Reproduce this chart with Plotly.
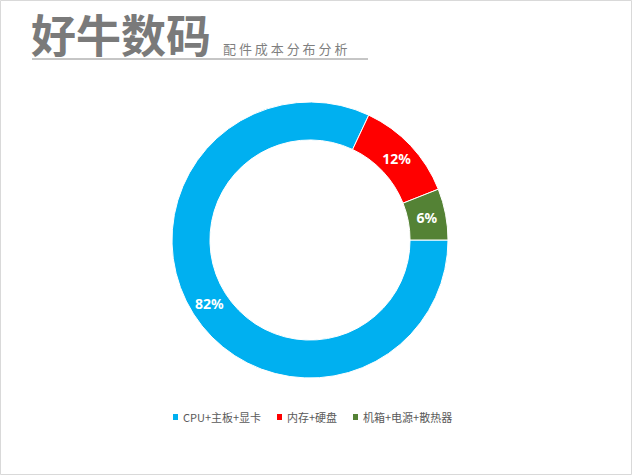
import plotly.graph_objects as go

categories = ["CPU+主板+显卡", "内存+硬盘", "机箱+电源+散热器"]
values = [82, 12, 6]
colors = ["#00B0F0", "#FF0000", "#548235"]

W, H = 632, 475
cx, cy, r = 310, 240, 138

fig = go.Figure(go.Pie(
    labels=categories, values=values, hole=0.725, sort=False,
    direction="clockwise", rotation=90,
    marker=dict(colors=colors, line=dict(color="white", width=1)),
    textinfo="percent", texttemplate="<b>%{percent:.0%}</b>",
    textposition="inside", insidetextorientation="horizontal",
    textfont=dict(color="white", size=14, family="Noto Sans"),
    domain=dict(x=[(cx - r) / W, (cx + r) / W], y=[(H - cy - r) / H, (H - cy + r) / H]),
    showlegend=False,
))

title_font = "Noto Sans CJK SC"
annotations = [
    dict(text="<b>好牛数码</b>", x=29 / W, y=1 - 33 / H, xref="paper", yref="paper",
         xanchor="left", yanchor="middle", showarrow=False,
         font=dict(size=45, color="#7a7a7a", family=title_font)),
    dict(text="配 件 成 本 分 布 分 析", x=221 / W, y=1 - 48 / H, xref="paper", yref="paper",
         xanchor="left", yanchor="middle", showarrow=False,
         font=dict(size=13, color="#7f7f7f", family=title_font)),
]
shapes = [
    dict(type="line", xref="paper", yref="paper", x0=32 / W, x1=368 / W,
         y0=1 - 59 / H, y1=1 - 59 / H, line=dict(color="#8c8c8c", width=1)),
    dict(type="rect", xref="paper", yref="paper", x0=0.5 / W, x1=1 - 0.5 / W,
         y0=0.5 / H, y1=1 - 0.5 / H, line=dict(color="#d9d9d9", width=1)),
]

# legend (manual, compact like the reference)
leg_x = [173, 277, 353]
leg_y = 417
for cat, col, lx in zip(categories, colors, leg_x):
    shapes.append(dict(type="rect", xref="paper", yref="paper",
                       x0=lx / W, x1=(lx + 5) / W, y0=1 - (leg_y + 3) / H, y1=1 - (leg_y - 3) / H,
                       fillcolor=col, line=dict(width=0)))
    annotations.append(dict(text=cat, x=(lx + 8) / W, y=1 - leg_y / H, xref="paper", yref="paper",
                            xanchor="left", yanchor="middle", showarrow=False,
                            font=dict(size=11, color="#595959", family="Noto Sans CJK SC")))

fig.update_layout(
    width=W, height=H, margin=dict(l=0, r=0, t=0, b=0),
    paper_bgcolor="white", plot_bgcolor="white",
    annotations=annotations, shapes=shapes,
)

fig.write_html("out.html")
